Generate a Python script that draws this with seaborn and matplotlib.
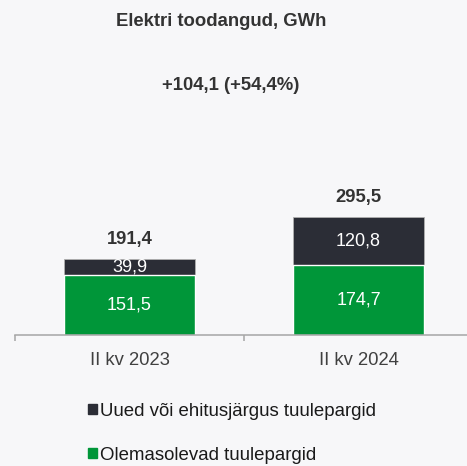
"""Elektri toodangud: stacked bars for two quarters."""

import matplotlib
matplotlib.use("Agg")
import matplotlib.pyplot as plt
import pandas as pd
import seaborn as sns
from matplotlib.patches import Patch

categories = ["II kv 2023", "II kv 2024"]
existing = [151.5, 174.7]
new_parks = [39.9, 120.8]
series_names = ["Uued või ehitusjärgus tuulepargid", "Olemasolevad tuulepargid"]
title = "Elektri toodangud, GWh"
change_text = "+104,1 (+54,4%)"

BG = "#f7f7f9"
DARK = "#2b2d36"
GREEN = "#009639"
TEXT = "#333333"


def fmt(v):
    return f"{v:.1f}".replace(".", ",")


df = pd.DataFrame({"cat": categories, "existing": existing, "new": new_parks})
df["total"] = df["existing"] + df["new"]

sns.set_theme(style="white")
plt.rcParams["font.family"] = ["Liberation Sans", "DejaVu Sans"]

fig = plt.figure(figsize=(4.67, 4.66), dpi=100, facecolor=BG)
ax = fig.add_axes([15 / 467, 1 - 335 / 466, 458 / 467, 335 / 466])
ax.set_facecolor(BG)

sns.barplot(data=df, x="cat", y="total", color=DARK, width=0.57, saturation=1,
            edgecolor="#b0b0b0", linewidth=0.6, ax=ax)
sns.barplot(data=df, x="cat", y="existing", color=GREEN, width=0.57, saturation=1,
            ax=ax)

ax.set_xlim(-0.5, 1.5)
ax.set_ylim(0, 335 / 0.398)

for i, row in df.iterrows():
    ax.text(i, row["existing"] / 2, fmt(row["existing"]), ha="center", va="center",
            color="white", fontsize=13)
    ax.text(i, row["existing"] + row["new"] / 2, fmt(row["new"]), ha="center",
            va="center", color="white", fontsize=13)
    ax.annotate(fmt(row["total"]), (i, row["total"]), xytext=(0, 14),
                textcoords="offset points", ha="center", va="center",
                fontsize=13.2, fontweight="bold", color=TEXT)

for side in ["top", "right", "left"]:
    ax.spines[side].set_visible(False)
ax.spines["bottom"].set_color("#a6a6a6")
ax.spines["bottom"].set_linewidth(1.1)
ax.set_yticks([])
ax.set_xlabel("")
ax.set_ylabel("")
ax.set_xticks([-0.5, 0.5, 1.5], minor=True)
ax.tick_params(axis="x", which="minor", length=4.5, width=1.1, color="#a6a6a6",
               direction="out", bottom=True)
ax.tick_params(axis="x", which="major", length=0, pad=12, labelsize=13.3,
               labelcolor="#404040")

fig.text(221 / 467, 1 - 21 / 466, title, ha="center", va="center",
         fontsize=13.3, fontweight="bold", color=TEXT)
fig.text(231 / 467, 1 - 85 / 466, change_text, ha="center", va="center",
         fontsize=13.3, fontweight="bold", color=TEXT)

handles = [Patch(color=DARK), Patch(color=GREEN)]
fig.legend(handles, series_names, loc="upper left",
           bbox_to_anchor=(71 / 467, 1 - 386 / 466), frameon=False,
           fontsize=13.4, handlelength=0.5, handleheight=0.5, handletextpad=0.15,
           labelspacing=1.45, labelcolor="#1a1a1a")

fig.savefig("out.png", dpi=100, facecolor=BG)
